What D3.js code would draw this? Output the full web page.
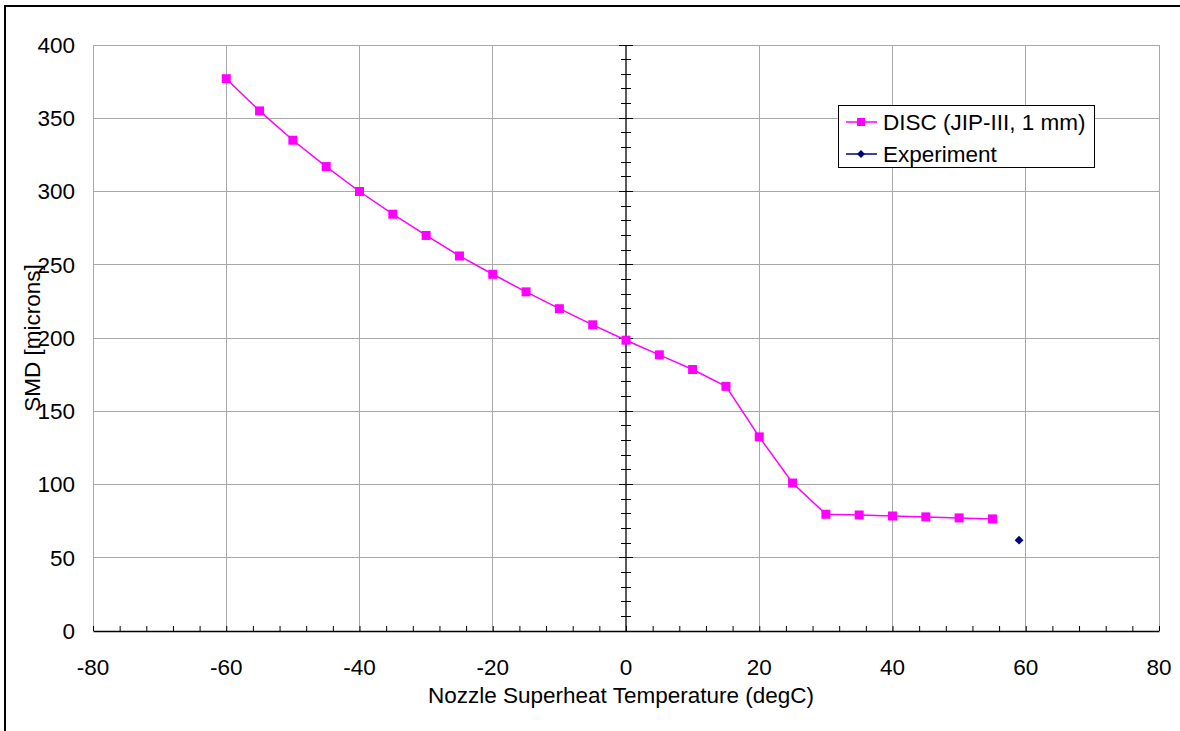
<!DOCTYPE html>
<html>
<head>
<meta charset="utf-8">
<script src="https://cdn.jsdelivr.net/npm/d3@7"></script>
<style>
  html, body { margin: 0; padding: 0; background: #fff; }
  svg { display: block; font-family: "Liberation Sans", Arial, sans-serif; }
</style>
</head>
<body>
<svg id="chart" width="1180" height="731"></svg>
<script>
// Nozzle superheat (degC) vs. Sauter mean diameter (microns)
const discTemps = [-60, -55, -50, -45, -40, -35, -30, -25, -20, -15, -10, -5, 0, 5, 10, 15, 20, 25, 30, 35, 40, 45, 50, 55];
const discSMD   = [377, 355, 335, 317, 300, 284.5, 270, 256, 243.5, 231.5, 220, 209, 198.5, 188.5, 178.5, 167, 132.5, 101, 79.7, 79.2, 78.5, 77.9, 77.2, 76.5];
const expTemps  = [59];
const expSMD    = [62];

const xTicks = [-80, -60, -40, -20, 0, 20, 40, 60, 80];
const yTicks = [0, 50, 100, 150, 200, 250, 300, 350, 400];
const seriesNames = ["DISC (JIP-III, 1 mm)", "Experiment"];

(function draw() {
  const svg = d3.select("#chart");
  const fontSize = 22.5;

  // outer frame
  svg.append("rect")
    .attr("x", 5).attr("y", 6).attr("width", 1200).attr("height", 760)
    .attr("fill", "none").attr("stroke", "#000").attr("stroke-width", 2);

  const plotLeft = 93, plotRight = 1159, plotTop = 45, plotBottom = 631;
  const x = d3.scaleLinear().domain([-80, 80]).range([plotLeft, plotRight]);
  const y = d3.scaleLinear().domain([0, 400]).range([plotBottom, plotTop]);

  const gridColor = "#a8a8a8";

  // vertical gridlines
  svg.append("g").selectAll("line").data(xTicks.filter(d => d !== 0)).join("line")
    .attr("x1", d => x(d)).attr("x2", d => x(d))
    .attr("y1", y(0)).attr("y2", y(400))
    .attr("stroke", gridColor).attr("stroke-width", 1).attr("shape-rendering", "crispEdges");

  // horizontal gridlines
  svg.append("g").selectAll("line").data(yTicks.filter(d => d !== 0)).join("line")
    .attr("x1", x(-80)).attr("x2", x(80))
    .attr("y1", d => y(d)).attr("y2", d => y(d))
    .attr("stroke", gridColor).attr("stroke-width", 1).attr("shape-rendering", "crispEdges");

  // x axis along y = 0, ticks pointing up into the plot
  const xAxis = d3.axisBottom(x)
    .tickValues(d3.range(-80, 81, 4))
    .tickSize(0).tickFormat("");
  const gx = svg.append("g").attr("transform", `translate(0,${y(0)})`).call(xAxis);
  gx.select(".domain").attr("stroke", "#000").attr("stroke-width", 1.3);
  gx.selectAll(".tick line").attr("y2", -5).attr("stroke", "#000");

  // x tick labels
  svg.append("g").selectAll("text").data(xTicks).join("text")
    .attr("x", d => x(d)).attr("y", 675)
    .attr("text-anchor", "middle").attr("font-size", fontSize).attr("fill", "#000")
    .text(d => d);

  // y axis crossing at x = 0, with crossing ticks
  const y0x = x(0);
  svg.append("line")
    .attr("x1", y0x).attr("x2", y0x).attr("y1", y(0)).attr("y2", y(400))
    .attr("stroke", "#000").attr("stroke-width", 1.3);
  const yMinor = d3.range(0, 401, 10);
  svg.append("g").selectAll("line").data(yMinor).join("line")
    .attr("x1", d => y0x - (d % 50 === 0 ? 7 : 5))
    .attr("x2", d => y0x + (d % 50 === 0 ? 7 : 5))
    .attr("y1", d => y(d)).attr("y2", d => y(d))
    .attr("stroke", "#000").attr("stroke-width", 1).attr("shape-rendering", "crispEdges");

  // y tick labels at the left edge
  svg.append("g").selectAll("text").data(yTicks).join("text")
    .attr("x", 75).attr("y", d => y(d)).attr("dy", "0.35em")
    .attr("text-anchor", "end").attr("font-size", fontSize).attr("fill", "#000")
    .text(d => d);

  // axis titles
  svg.append("text")
    .attr("x", (plotLeft + plotRight) / 2 - 5).attr("y", 703)
    .attr("text-anchor", "middle").attr("font-size", fontSize)
    .text("Nozzle Superheat Temperature (degC)");
  svg.append("text")
    .attr("transform", `translate(40,${(plotTop + plotBottom) / 2}) rotate(-90)`)
    .attr("text-anchor", "middle").attr("font-size", fontSize)
    .text("SMD [microns]");

  // DISC series
  const discData = discTemps.map((t, i) => [t, discSMD[i]]);
  svg.append("path")
    .datum(discData)
    .attr("fill", "none").attr("stroke", "#ff00ff").attr("stroke-width", 1.5)
    .attr("d", d3.line().x(d => x(d[0])).y(d => y(d[1])));
  svg.append("g").selectAll("rect").data(discData).join("rect")
    .attr("x", d => x(d[0]) - 4.5).attr("y", d => y(d[1]) - 4.5)
    .attr("width", 9).attr("height", 9).attr("fill", "#ff00ff");

  // Experiment point
  const expData = expTemps.map((t, i) => [t, expSMD[i]]);
  const diamond = d3.symbol().type(d3.symbolDiamond2).size(50);
  svg.append("g").selectAll("path").data(expData).join("path")
    .attr("transform", d => `translate(${x(d[0])},${y(d[1])})`)
    .attr("d", diamond).attr("fill", "#000080");

  // legend
  const lg = svg.append("g");
  lg.append("rect")
    .attr("x", 838.5).attr("y", 105.5).attr("width", 256).attr("height", 62)
    .attr("fill", "#fff").attr("stroke", "#000").attr("stroke-width", 1);
  const legendRows = [
    { name: seriesNames[0], color: "#ff00ff", shape: "square", cy: 122 },
    { name: seriesNames[1], color: "#000080", shape: "diamond", cy: 154 }
  ];
  legendRows.forEach(r => {
    lg.append("line").attr("x1", 846).attr("x2", 877).attr("y1", r.cy).attr("y2", r.cy)
      .attr("stroke", r.color).attr("stroke-width", 1.5);
    if (r.shape === "square") {
      lg.append("rect").attr("x", 857).attr("y", r.cy - 4).attr("width", 8).attr("height", 8).attr("fill", r.color);
    } else {
      lg.append("path").attr("transform", `translate(861,${r.cy})`)
        .attr("d", d3.symbol().type(d3.symbolDiamond2).size(40)).attr("fill", r.color);
    }
    lg.append("text").attr("x", 883).attr("y", r.cy).attr("dy", "0.35em")
      .attr("font-size", fontSize).text(r.name);
  });
})();
</script>
</body>
</html>
